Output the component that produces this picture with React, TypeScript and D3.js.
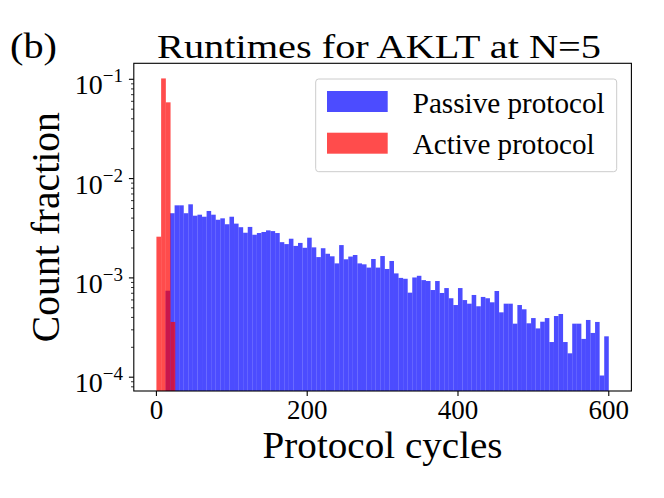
import * as d3 from 'd3'
import * as React from 'react';

// Histogram fractions (one value per bin)
const passiveRange: [number, number] = [12, 600]
const passiveFraction = [
  7.43e-4, 4.48e-3, 5.38e-3, 5.38e-3, 4.48e-3, 5.51e-3, 4.23e-3, 4.33e-3, 4.13e-3, 4.72e-3,
  4.33e-3, 3.85e-3, 3.98e-3, 3.47e-3, 4.13e-3, 3.52e-3, 3.24e-3, 2.85e-3, 3.26e-3, 2.72e-3,
  2.83e-3, 2.90e-3, 3.01e-3, 2.96e-3, 2.83e-3, 2.29e-3, 2.19e-3, 2.48e-3, 2.10e-3, 2.25e-3,
  2.01e-3, 2.54e-3, 2.03e-3, 1.62e-3, 1.99e-3, 1.75e-3, 1.65e-3, 1.40e-3, 2.14e-3, 1.54e-3,
  1.64e-3, 1.70e-3, 1.40e-3, 1.37e-3, 1.27e-3, 1.55e-3, 1.27e-3, 1.66e-3, 1.23e-3, 1.48e-3,
  1.11e-3, 1.00e-3, 9.8e-4, 7.1e-4, 1.01e-3, 1.05e-3, 9.5e-4, 9.3e-4, 7.55e-4, 9.3e-4,
  7.05e-4, 7.9e-4, 6.24e-4, 5.33e-4, 7.9e-4, 5.98e-4, 5.5e-4, 6.73e-4, 5.18e-4, 6.43e-4,
  6.24e-4, 5.68e-4, 7.38e-4, 4.5e-4, 5.5e-4, 5.5e-4, 3.46e-4, 5.33e-4, 4.83e-4, 3.49e-4,
  3.94e-4, 3.1e-4, 3.62e-4, 3.94e-4, 2.26e-4, 4.13e-4, 4.33e-4, 2.26e-4, 1.74e-4, 3.46e-4,
  3.46e-4, 2.43e-4, 3.77e-4, 2.79e-4, 3.6e-4, 1.04e-4, 2.58e-4,
]

const activeRange: [number, number] = [0, 25]
const activeFraction = [2.6e-3, 0.102, 0.0586, 3.6e-4]

const xTicks = [0, 200, 400, 600]
const yTickExponents = [-1, -2, -3, -4]
const seriesLabels = ['Passive protocol', 'Active protocol']

const FONT = '"Liberation Serif", "DejaVu Serif", serif'

type Bin = { x0: number, x1: number, v: number }

const toBins = (range: [number, number], values: number[]): Bin[] => {
  const w = (range[1] - range[0]) / values.length
  return values.map((v, i) => ({ x0: range[0] + i * w, x1: range[0] + (i + 1) * w, v }))
}

export default class App extends React.Component {
  private node: SVGSVGElement | null = null

  public componentDidMount() {
    this.createChart()
  }

  public render() {
    return <svg ref={node => { this.node = node }} width={664} height={498}
      style={{ position: 'absolute', left: 0, top: 0, background: '#fff' }} />
  }

  private createChart() {
    const left = 133.8, right = 631.4, top = 63.3, bottom = 391

    const x = d3.scaleLinear().domain([-30, 630]).range([left, right])
    const y = d3.scaleLog().domain([Math.pow(10, -4.139), Math.pow(10, -0.839)]).range([bottom, top])

    const svg = d3.select(this.node)
    svg.selectAll('*').remove()

    svg.append('defs').append('clipPath').attr('id', 'plot-clip')
      .append('rect').attr('x', left).attr('y', top).attr('width', right - left).attr('height', bottom - top)

    const plot = svg.append('g').attr('clip-path', 'url(#plot-clip)')

    // Passive bars first, active drawn over them
    const drawBars = (bins: Bin[], color: string) => {
      plot.append('g').selectAll('rect')
        .data(bins)
        .enter()
        .append('rect')
        .attr('x', d => x(d.x0))
        .attr('width', d => x(d.x1) - x(d.x0))
        .attr('y', d => y(d.v))
        .attr('height', d => bottom - y(d.v))
        .attr('fill', color)
        .attr('fill-opacity', 0.7)
    }
    drawBars(toBins(passiveRange, passiveFraction), '#0000ff')
    drawBars(toBins(activeRange, activeFraction), '#ff0000')

    // Frame
    svg.append('rect')
      .attr('x', left).attr('y', top).attr('width', right - left).attr('height', bottom - top)
      .attr('fill', 'none').attr('stroke', '#000').attr('stroke-width', 1.1)

    // x ticks
    const xt = svg.append('g')
    xTicks.forEach(t => {
      xt.append('line').attr('x1', x(t)).attr('x2', x(t)).attr('y1', bottom).attr('y2', bottom + 4.9)
        .attr('stroke', '#000').attr('stroke-width', 1.1)
      xt.append('text').attr('x', x(t)).attr('y', bottom + 28)
        .attr('text-anchor', 'middle').attr('font-family', FONT).attr('font-size', 27)
        .text(String(t))
    })

    // y ticks (log decades + minor)
    const yt = svg.append('g')
    const [d0, d1] = y.domain()
    for (let e = -5; e <= 0; e++) {
      for (let m = 2; m <= 9; m++) {
        const v = m * Math.pow(10, e)
        if (v < d0 || v > d1) continue
        yt.append('line').attr('x1', left).attr('x2', left - 2.8).attr('y1', y(v)).attr('y2', y(v))
          .attr('stroke', '#000').attr('stroke-width', 0.8)
      }
    }
    yTickExponents.forEach(e => {
      const yy = y(Math.pow(10, e))
      yt.append('line').attr('x1', left).attr('x2', left - 4.9).attr('y1', yy).attr('y2', yy)
        .attr('stroke', '#000').attr('stroke-width', 1.1)
      const label = yt.append('text').attr('x', 123).attr('y', yy + 15)
        .attr('text-anchor', 'end').attr('font-family', FONT).attr('font-size', 28)
      label.append('tspan').text('10')
      label.append('tspan').attr('font-size', 19).attr('dy', -12).text('\u2212' + Math.abs(e))
    })

    // Axis labels and title
    svg.append('text').attr('x', (left + right) / 2).attr('y', 458)
      .attr('text-anchor', 'middle').attr('font-family', FONT).attr('font-size', 37)
      .attr('textLength', 240).attr('lengthAdjust', 'spacingAndGlyphs')
      .text('Protocol cycles')

    svg.append('text').attr('transform', `translate(59,${(top + bottom) / 2}) rotate(-90)`)
      .attr('text-anchor', 'middle').attr('font-family', FONT).attr('font-size', 40)
      .attr('textLength', 230).attr('lengthAdjust', 'spacingAndGlyphs')
      .text('Count fraction')

    svg.append('text').attr('x', 379).attr('y', 58)
      .attr('text-anchor', 'middle').attr('font-family', FONT).attr('font-size', 33)
      .attr('textLength', 444).attr('lengthAdjust', 'spacingAndGlyphs')
      .text('Runtimes for AKLT at N=5')

    svg.append('text').attr('x', 10).attr('y', 58)
      .attr('font-family', FONT).attr('font-size', 36)
      .attr('textLength', 47).attr('lengthAdjust', 'spacingAndGlyphs')
      .text('(b)')

    // Legend
    const lg = svg.append('g')
    lg.append('rect').attr('x', 315.7).attr('y', 79).attr('width', 301).attr('height', 92.7)
      .attr('rx', 3).attr('fill', '#fff').attr('fill-opacity', 0.8)
      .attr('stroke', '#cccccc').attr('stroke-width', 1)
    const colors = ['#0000ff', '#ff0000']
    const widths = [192, 182]
    seriesLabels.forEach((s, i) => {
      const yy = 91 + i * 41.7
      lg.append('rect').attr('x', 327).attr('y', yy).attr('width', 60.7).attr('height', 21)
        .attr('fill', colors[i]).attr('fill-opacity', 0.7)
      lg.append('text').attr('x', 412.7).attr('y', yy + 21.5)
        .attr('font-family', FONT).attr('font-size', 30)
        .attr('textLength', widths[i]).attr('lengthAdjust', 'spacingAndGlyphs')
        .text(s)
    })
  }
}
